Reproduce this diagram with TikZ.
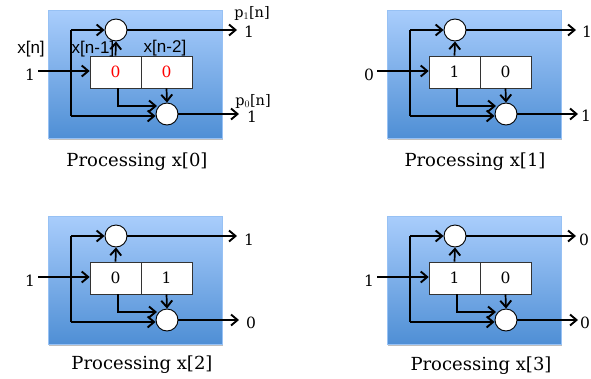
\documentclass[tikz,border=0pt]{standalone}
\usepackage{fontspec}
\setmainfont{DejaVu Serif}
\newfontfamily\labelfont{Liberation Sans}
\usetikzlibrary{positioning,calc,shadows,arrows.meta}
\definecolor{paneltop}{HTML}{A9CDFC}
\definecolor{panelbot}{HTML}{4F8FD5}
\tikzset{
  panel/.style={minimum width=174pt,minimum height=128pt,inner sep=0pt,top color=paneltop,bottom color=panelbot,draw=paneltop!80!panelbot,line width=0.4pt,drop shadow={shadow xshift=1pt,shadow yshift=-1.5pt,opacity=0.5}},
  cell/.style={draw=black!80,fill=white,minimum width=51pt,minimum height=32pt,inner sep=0pt,line width=0.6pt,font=\fontsize{15.5}{18}\selectfont},
  sum/.style={circle,draw=black,fill=white,line width=0.9pt,minimum size=22pt,inner sep=0pt},
  wire/.style={line width=1.7pt,-{Straight Barb[length=6.5pt,width=11pt,line width=1.9pt]},line join=miter},
  plain/.style={line width=1.7pt},
  val/.style={inner sep=0pt,font=\fontsize{15.5}{18}\selectfont},
  caption/.style={inner sep=0pt,font=\fontsize{18}{20}\selectfont},
  reglabel/.style={inner sep=0pt,font=\labelfont\fontsize{17}{20}\selectfont},
  outlabel/.style={inner sep=0pt,font=\fontsize{14.5}{17}\selectfont},
}
\begin{document}
\begin{tikzpicture}[x=1pt,y=-1pt]
\useasboundingbox (0,0) rectangle (591,378);
% One panel per input sample
\foreach \i/\dx/\dy/\inval/\cellcol/\vala/\valb/\outa/\outaY/\outaX/\capx/\capy in {
  0/0/0/1/red/0/0/1/32/249/137/162,
  1/339/0/0/black/1/0/1/32/248/136/162,
  2/0/206/1/black/0/1/1/34/249/142/159,
  3/339/206/1/black/1/0/0/34/245/142/160}{
\begin{scope}[shift={(\dx,\dy)}]
\node[panel] (panel\i) at (135,74) {};
% Register cells and adders
\node[cell,text=\cellcol] (cella\i) at (115.5,72) {\vala};
\node[cell,text=\cellcol] (cellb\i) at (166.5,72) {\valb};
\node[sum] (top\i) at (116,30) {};
\node[sum] (bot\i) at (167,114) {};
% Free ends and corners
\coordinate (in\i) at (38,71);
\coordinate (fork\i) at (71,71);
\coordinate (forktop\i) at (71,30);
\coordinate (forkbot\i) at (71,116);
\coordinate (taphead\i) at (118,88);
\coordinate (tapend\i) at (157,106);
\coordinate (outa\i) at (237,30);
\coordinate (outb\i) at (239,114);
% Connectors
\draw[wire] (in\i) -- (cella\i.west |- in\i);
\draw[plain] (forktop\i) -- (forkbot\i);
\draw[wire] (forktop\i) -- (top\i.west);
\draw[wire] (forkbot\i) -- (forkbot\i -| bot\i.west);
\draw[wire] (cella\i.north) -- (top\i.south);
\draw[wire] (cellb\i.south) -- (bot\i.north);
\draw[wire] (taphead\i) |- (tapend\i);
\draw[wire] (top\i.east) -- (outa\i);
\draw[wire] (bot\i.east) -- (outb\i);
% Values
\node[val] (inlabel\i) at (30,75) {\inval};
\node[val] (outalabel\i) at (\outaX,\outaY) {\outa};
\node[caption] (cap\i) at (\capx,\capy) {Processing x[\i]};
\end{scope}
}
% Bottom outputs
\node[val] (outblabel0) at (252,117) {1};
\node[val] (outblabel1) at (586,116) {1};
\node[val] (outblabel2) at (251,323) {0};
\node[val] (outblabel3) at (585,323) {0};
% Signal names on the first panel
\node[reglabel] (xn) at (31,49) {x[n]};
\node[reglabel] (xa) at (93,49) {x[n-1]};
\node[reglabel] (xb) at (165,48) {x[n-2]};
\node[outlabel] (pa) at (252,13) {p$_1$[n]};
\node[outlabel] (pb) at (253,101) {p$_0$[n]};
\end{tikzpicture}
\end{document}
